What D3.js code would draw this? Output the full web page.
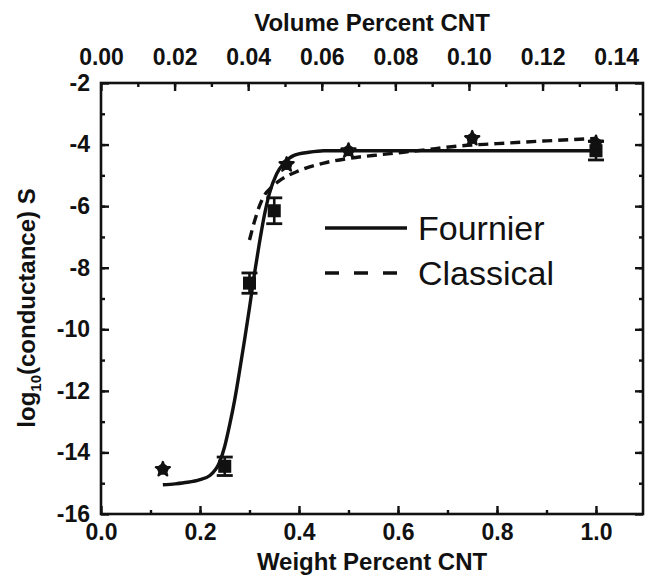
<!DOCTYPE html>
<html>
<head>
<meta charset="utf-8">
<script src="https://cdn.jsdelivr.net/npm/d3@7"></script>
<style>
  body { margin: 0; background: #fff; }
  svg { display: block; }
  .tick text { font-family: "Liberation Sans", Arial, sans-serif; font-weight: bold; font-size: 23px; fill: #111; }
  .axis-title { font-family: "Liberation Sans", Arial, sans-serif; font-weight: bold; font-size: 24px; fill: #111; }
  .legend-text { font-family: "Liberation Sans", Arial, sans-serif; font-size: 34px; fill: #111; }
</style>
</head>
<body>
<div id="chart"></div>
<script>

// measured points (weight percent CNT, log10 conductance)
var starWt   = [0.125, 0.375, 0.5, 0.75, 1.0];
var starLog  = [-14.55, -4.65, -4.2, -3.8, -3.95];

var squareWt  = [0.25, 0.3, 0.35, 1.0];
var squareLog = [-14.45, -8.5, -6.15, -4.2];
var squareErr = [0.3, 0.33, 0.42, 0.3];

// Fournier fit
var fournierWt  = [0.125, 0.15, 0.175, 0.2, 0.22, 0.24, 0.25, 0.26, 0.27, 0.28, 0.29, 0.3,
                   0.31, 0.32, 0.33, 0.34, 0.355, 0.37, 0.39, 0.42, 0.45, 0.6, 0.8, 1.0];
var fournierLog = [-15.05, -15.02, -14.97, -14.88, -14.75, -14.3, -13.8, -13.1, -12.3, -11.35, -10.35, -9.3,
                   -8.2, -7.2, -6.3, -5.6, -4.95, -4.6, -4.35, -4.25, -4.2, -4.2, -4.2, -4.2];

// classical percolation fit
var classicalWt  = [0.3, 0.31, 0.32, 0.33, 0.345, 0.36, 0.4, 0.45, 0.5, 0.57, 0.65, 0.72, 0.8, 0.9, 1.0];
var classicalLog = [-7.1, -6.5, -6.0, -5.65, -5.38, -5.18, -4.85, -4.6, -4.45, -4.32, -4.18, -4.05, -3.97, -3.88, -3.8];

var legendNames = ["Fournier", "Classical"];

var width = 645, height = 576;
var margin = {top: 83, right: 2, bottom: 62, left: 101};
var plotW = width - margin.left - margin.right,
    plotH = height - margin.top - margin.bottom;

var svg = d3.select("#chart").append("svg")
    .attr("width", width)
    .attr("height", height);

var g = svg.append("g")
    .attr("transform", "translate(" + margin.left + "," + margin.top + ")");

var x = d3.scaleLinear().domain([0, 1.095]).range([0, plotW]);
// volume percent axis on top, same pixels
var xv = d3.scaleLinear().domain([0, 0.1473]).range([0, plotW]);
var y = d3.scaleLinear().domain([-16, -2]).range([plotH, 0]);

var fmt1 = d3.format(".1f"), fmt2 = d3.format(".2f");
var dropDomain = function(sel) { sel.select(".domain").remove(); };

// minor ticks first
g.append("g").attr("transform", "translate(0," + plotH + ")")
  .call(d3.axisBottom(x).tickValues(d3.range(1, 11).map(function(d){ return d / 10; })).tickSize(-4).tickFormat(""))
  .call(dropDomain);
g.append("g")
  .call(d3.axisTop(xv).tickValues(d3.range(1, 15).map(function(d){ return d / 100; })).tickSize(-4).tickFormat(""))
  .call(dropDomain);
g.append("g")
  .call(d3.axisLeft(y).tickValues(d3.range(-15, -2)).tickSize(-4).tickFormat(""))
  .call(dropDomain);
g.append("g").attr("transform", "translate(" + plotW + ",0)")
  .call(d3.axisRight(y).tickValues(d3.range(-15, -2)).tickSize(-4).tickFormat(""))
  .call(dropDomain);

// major ticks with labels
g.append("g").attr("transform", "translate(0," + plotH + ")")
  .call(d3.axisBottom(x).tickValues([0, 0.2, 0.4, 0.6, 0.8, 1.0]).tickSize(-8).tickPadding(10).tickFormat(fmt1))
  .call(dropDomain);
g.append("g")
  .call(d3.axisTop(xv).tickValues(d3.range(0, 8).map(function(d){ return d * 0.02; })).tickSize(-8).tickPadding(18).tickFormat(fmt2))
  .call(dropDomain);
g.append("g")
  .call(d3.axisLeft(y).tickValues(d3.range(-16, -1, 2)).tickSize(-8).tickPadding(11))
  .call(dropDomain);
g.append("g").attr("transform", "translate(" + plotW + ",0)")
  .call(d3.axisRight(y).tickValues(d3.range(-16, -1, 2)).tickSize(-8).tickFormat(""))
  .call(dropDomain);

g.selectAll(".tick line").attr("stroke", "#111").attr("stroke-width", 2.4);
g.selectAll(".tick text").text(function() { return this.textContent.replace("\u2212", "-"); });

// frame
g.append("rect")
  .attr("width", plotW).attr("height", plotH)
  .attr("fill", "none").attr("stroke", "#111").attr("stroke-width", 2.6);

// fit curves
var line = d3.line()
  .x(function(d){ return x(d[0]); })
  .y(function(d){ return y(d[1]); })
  .curve(d3.curveMonotoneX);

g.append("path")
  .datum(d3.zip(fournierWt, fournierLog))
  .attr("d", line)
  .attr("fill", "none").attr("stroke", "#111").attr("stroke-width", 3.4);

g.append("path")
  .datum(d3.zip(classicalWt, classicalLog))
  .attr("d", line)
  .attr("fill", "none").attr("stroke", "#111").attr("stroke-width", 3.4)
  .attr("stroke-dasharray", "10,6");

// squares with error bars
var sq = g.append("g").selectAll("g")
  .data(d3.zip(squareWt, squareLog, squareErr))
  .join("g")
  .attr("transform", function(d){ return "translate(" + x(d[0]) + "," + y(d[1]) + ")"; });

sq.append("line")
  .attr("y1", function(d){ return y(d[1] + d[2]) - y(d[1]); })
  .attr("y2", function(d){ return y(d[1] - d[2]) - y(d[1]); })
  .attr("stroke", "#111").attr("stroke-width", 2.6);
sq.selectAll(".cap")
  .data(function(d){ return [d[1] + d[2], d[1] - d[2]].map(function(v){ return y(v) - y(d[1]); }); })
  .join("line")
  .attr("class", "cap")
  .attr("x1", -8).attr("x2", 8)
  .attr("y1", function(d){ return d; }).attr("y2", function(d){ return d; })
  .attr("stroke", "#111").attr("stroke-width", 2.8);
sq.append("path")
  .attr("d", d3.symbol(d3.symbolSquare, 170))
  .attr("fill", "#111");

// stars: small filled asterisk blobs
var stars = g.append("g").selectAll("g")
  .data(d3.zip(starWt, starLog))
  .join("g")
  .attr("transform", function(d){ return "translate(" + x(d[0]) + "," + y(d[1]) + ")"; });
stars.append("circle").attr("r", 5.5).attr("fill", "#111");
stars.append("path")
  .attr("d", d3.symbol(d3.symbolStar, 60))
  .attr("fill", "#111")
  .attr("stroke", "#111").attr("stroke-width", 2.4).attr("stroke-linejoin", "round");

// legend
var legend = g.append("g").attr("transform", "translate(224,145)");
legend.selectAll("line")
  .data(legendNames)
  .join("line")
  .attr("x1", 0).attr("x2", 82)
  .attr("y1", function(d, i){ return i * 45; })
  .attr("y2", function(d, i){ return i * 45; })
  .attr("stroke", "#111").attr("stroke-width", 3.4)
  .attr("stroke-dasharray", function(d, i){ return i ? "14,15" : null; });
legend.selectAll("text")
  .data(legendNames)
  .join("text")
  .attr("class", "legend-text")
  .attr("x", 93)
  .attr("y", function(d, i){ return i * 45 + 12; })
  .text(function(d){ return d; });

// axis titles
svg.append("text").attr("class", "axis-title")
  .attr("x", 372).attr("y", 31).attr("text-anchor", "middle")
  .text("Volume Percent CNT");
svg.append("text").attr("class", "axis-title")
  .attr("x", 372).attr("y", 570).attr("text-anchor", "middle")
  .text("Weight Percent CNT");

var ytitle = svg.append("text").attr("class", "axis-title")
  .attr("transform", "translate(35,308) rotate(-90)")
  .attr("text-anchor", "middle");
ytitle.append("tspan").text("log");
ytitle.append("tspan").attr("font-size", 15).attr("dy", 6).text("10");
ytitle.append("tspan").attr("dy", -6).text("(conductance) S");

</script>
</body>
</html>
